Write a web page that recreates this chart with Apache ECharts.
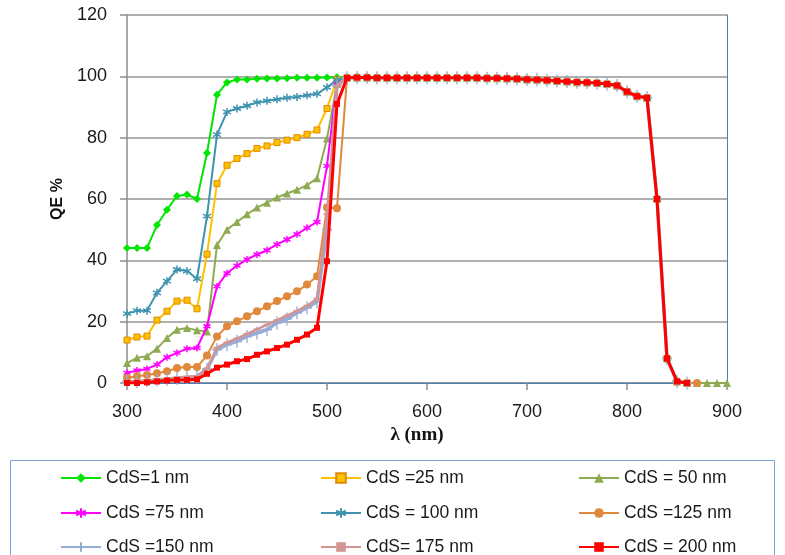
<!DOCTYPE html>
<html><head><meta charset="utf-8">
<script src="https://cdn.jsdelivr.net/npm/echarts@6/dist/echarts.min.js"></script>
<style>html,body{margin:0;padding:0;background:#fff;overflow:hidden;width:785px;height:555px;position:relative}#c{position:absolute;left:0;top:-5px;width:785px;height:560px}</style>
</head><body><div id="c"></div><script>
// wavelengths (nm)
const wlShort = [300,310,320,330,340,350,360,370,380,390,400,410,420,430,440,450,460,470,480,490,500,510];
const wlTail = [520,530,540,550,560,570,580,590,600,610,620,630,640,650,660,670,680,690,700,710,720,730,740,750,760,770,780,790,800,810,820,830,840,850,860,870,880,890,900];
// QE (%) for 300..510 nm
const qe1   = [44,44,44,51.5,56.5,61,61.5,60,75,94,98,99,99,99.2,99.3,99.3,99.4,99.5,99.5,99.5,99.6,99.7];
const qe25  = [14,15,15.3,20.5,23.4,26.7,27,24.2,42,65,71,73.2,74.8,76.5,77.3,78.4,79.2,80,81.1,82.5,89.5,99];
const qe50  = [6.5,8.2,8.7,11.2,14.7,17.4,17.9,17.2,16.8,45,50,52.5,55,57.2,58.8,60.5,61.8,63,64.5,66.8,79.7,97.5];
const qe75  = [3.3,4.1,4.6,6,8.4,9.8,11.2,11.4,18.5,31.5,35.8,38.3,40.3,41.9,43.3,45.2,46.8,48.5,50.6,52.5,70.8,98];
const qe100 = [22.6,23.6,23.6,29.4,33.2,37,36.5,34,54.4,81,88.4,89.5,90.4,91.5,92,92.5,93,93.3,93.8,94.3,96.4,98.8];
const qe125 = [1.6,2.2,2.6,3.2,3.8,4.9,5.2,5.2,9,15.2,18.5,20.1,21.8,23.4,25,26.7,28.3,29.9,32.1,34.8,57.2,57];
const qe150 = [0.5,0.5,0.7,1,1.2,1.5,1.8,2,4.5,10.9,12.5,13.6,15.2,16.3,17.4,19.6,20.9,22.9,24.5,26.5,50,97];
const qe175 = [0.5,0.6,0.8,1.1,1.4,1.8,2,2.2,4.8,11.5,13.2,14.5,16,17.5,19,20.5,22,23.5,25.2,27.5,55,97];
const qe200 = [0,0,0.2,0.5,0.8,1,1,1.2,3,5,6,7.1,7.8,9.2,10.3,11.4,12.5,14.1,15.8,18,39.7,91];
// common long-wavelength QE (%) for 520..900 nm
const qeTail = [99.5,99.6,99.6,99.5,99.5,99.5,99.5,99.5,99.5,99.5,99.5,99.5,99.5,99.5,99.4,99.4,99.3,99.2,99,98.9,98.7,98.5,98.3,98.1,98,97.8,97.5,97,95,93.5,93,60,8,0.5,0,0,0,0,0];
// last wavelength of each series
const lastWl = [860,860,900,860,860,870,860,860,860];
const names = ['CdS=1 nm','CdS =25 nm','CdS = 50 nm','CdS =75 nm','CdS = 100 nm','CdS =125 nm','CdS =150 nm','CdS= 175 nm','CdS = 200 nm'];

const starPath = 'path://M5,0L5,10M0.7,2.5L9.3,7.5M0.7,7.5L9.3,2.5';
const plusPath = 'path://M5,0L5,12M0,6L10,6';
const styles = [
  {c:'#00e600', sym:'diamond', size:8, lw:2},
  {c:'#ffc000', sym:'rect', size:6, lw:2, border:'#e08a00'},
  {c:'#8fab52', sym:'triangle', size:8, lw:2},
  {c:'#ff00ff', sym:starPath, size:7, lw:2, stroke:true},
  {c:'#3f93ae', sym:starPath, size:8, lw:2, stroke:true},
  {c:'#e0893c', sym:'circle', size:8, lw:2},
  {c:'#94add6', sym:plusPath, size:[10,13], lw:3.5, stroke:true},
  {c:'#d39593', sym:'rect', size:[7,2], lw:2.5},
  {c:'#ff0000', sym:'rect', size:6, lw:3}
];
const vals = [qe1,qe25,qe50,qe75,qe100,qe125,qe150,qe175,qe200];

const series = vals.map((v,k)=>{
  const st = styles[k];
  const data = wlShort.map((w,i)=>[w,v[i]]);
  wlTail.forEach((w,i)=>{ if (w<=lastWl[k]) data.push([w,qeTail[i]]); });
  const itemStyle = {color: st.c};
  if (st.stroke) { itemStyle.borderColor = st.c; itemStyle.borderWidth = 1.5; }
  if (st.border) { itemStyle.borderColor = st.border; itemStyle.borderWidth = 1; }
  return {
    name: names[k], type:'line', data, symbol: st.sym, symbolSize: st.size,
    showAllSymbol: true, lineStyle:{color: st.c, width: st.lw}, itemStyle,
    emphasis:{disabled:true}, animation:false, z: 2+k
  };
});

const font = "'Liberation Sans Narrow','Liberation Sans',sans-serif";
const colLeft = [55, 315, 573];
const rowTop = [469, 504, 538];
const legends = names.map((n,k)=>({
  left: colLeft[k%3], top: rowTop[Math.floor(k/3)], itemWidth:40, itemHeight:12,
  textStyle:{fontFamily:font, fontSize:17.5, color:'#1a1a1a'}, selectedMode:false, data:[n]
}));

const chart = echarts.init(document.getElementById('c'), null, {renderer:'canvas'});
chart.setOption({
  animation:false,
  backgroundColor:'#fff',
  grid:{left:127, right:58, top:20, bottom:172},
  xAxis:[{
    type:'value', min:300, max:900, interval:100,
    axisLine:{lineStyle:{color:'#8c8c8c', width:1.5}},
    axisTick:{show:true, length:7, lineStyle:{color:'#8c8c8c', width:1.5}},
    axisLabel:{fontFamily:font, fontSize:18, color:'#1a1a1a', margin:20},
    splitLine:{show:false},
    name:'λ (nm)', nameLocation:'middle', nameGap:37,
    nameTextStyle:{fontFamily:"'Liberation Serif',serif", fontWeight:'bold', fontSize:19, color:'#111', padding:[0,20,0,0]}
  },{
    type:'value', position:'top', min:300, max:900,
    axisLine:{show:true, lineStyle:{color:'#4a7ebb', width:1}},
    axisTick:{show:false}, axisLabel:{show:false}, splitLine:{show:false}
  }],
  yAxis:[{
    type:'value', min:0, max:120, interval:20,
    axisLine:{show:true, lineStyle:{color:'#8c8c8c', width:1.5}},
    axisTick:{show:true, length:7, lineStyle:{color:'#8c8c8c', width:1.5}},
    axisLabel:{fontFamily:font, fontSize:18, color:'#1a1a1a', margin:20},
    splitLine:{lineStyle:{color:'#959595', width:1.5}},
    name:'QE %', nameLocation:'middle', nameGap:60,
    nameTextStyle:{fontFamily:"'Liberation Sans',sans-serif", fontWeight:'bold', fontSize:16, color:'#111'}
  },{
    type:'value', position:'right', min:0, max:120,
    axisLine:{show:true, lineStyle:{color:'#4a7ebb', width:1}},
    axisTick:{show:false}, axisLabel:{show:false}, splitLine:{show:false}
  }],
  legend: legends,
  graphic:[{type:'rect', shape:{x:10.5, y:465.5, width:764, height:200},
    style:{fill:'none', stroke:'#7aa3d6', lineWidth:1}, silent:true}],
  series
});
</script></body></html>
